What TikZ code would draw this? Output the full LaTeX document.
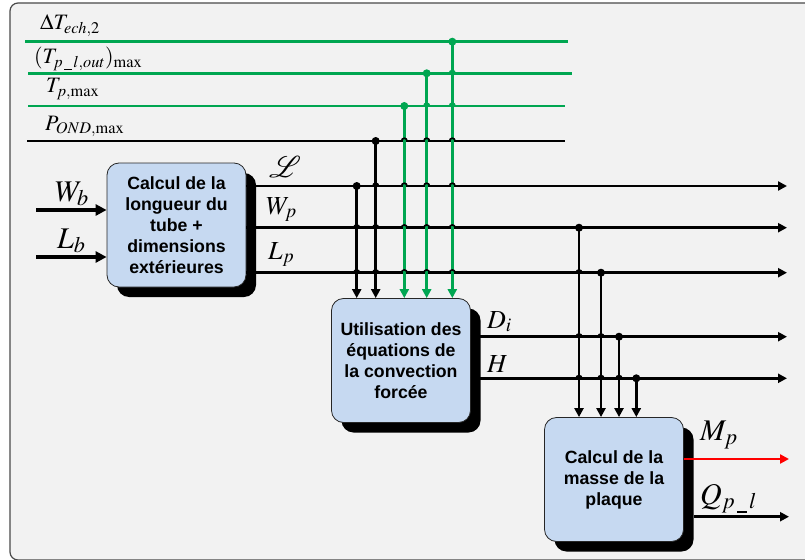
\documentclass[tikz,border=0pt]{standalone}
\usepackage{mathptmx}
\usepackage{fontspec}
\setsansfont{Liberation Sans}
\usetikzlibrary{arrows.meta,positioning,calc,shadows}
\definecolor{framegray}{HTML}{4A4A4A}
\definecolor{panelgray}{HTML}{F2F2F2}
\definecolor{boxblue}{HTML}{C6D9F1}
\definecolor{busgreen}{HTML}{00A651}
\definecolor{busred}{HTML}{FF0000}
\newcommand{\uscore}{\,\rule[-0.12em]{0.32em}{0.06em}\,}

\begin{document}
\begin{tikzpicture}[x=1pt, y=1pt,
  block/.style={draw=black!85, line width=0.8pt, fill=boxblue, rounded corners=12pt, minimum width=139pt, minimum height=124pt, inner sep=0pt, align=center, font=\fontsize{17.7}{21}\selectfont\sffamily\bfseries, drop shadow={shadow xshift=10pt, shadow yshift=-10pt, fill=black, opacity=1}},
  bus/.style={line width=2.6pt},
  gbus/.style={bus, busgreen},
  feed/.style={bus, -{Triangle[length=9pt, width=9pt]}},
  gfeed/.style={feed, busgreen},
  inarrow/.style={line width=3.4pt, -{Triangle[length=11pt, width=11pt]}},
  dot/.style={circle, fill, inner sep=0pt, minimum size=8pt},
  toplbl/.style={anchor=base west, inner sep=0pt, font=\fontsize{22}{24}\selectfont},
  midlbl/.style={anchor=base west, inner sep=0pt, font=\fontsize{26}{28}\selectfont},
  biglbl/.style={anchor=base west, inner sep=0pt, font=\fontsize{30}{32}\selectfont},
]

\useasboundingbox[fill=white] (0,0) rectangle (805,-559);

% ── Panel ──
\draw[framegray, fill=panelgray, line width=1.2pt, rounded corners=8pt] (10,-3) rectangle (840,-560);

% ── Blocks ──
\node[block] (geom) at (176.5,-225) {Calcul de la\\longueur du\\tube +\\dimensions\\extérieures};
\node[block] (conv) at (401,-360.5) {Utilisation des\\équations de\\la convection\\forcée};
\node[block] (mass) at (614,-479.5) {Calcul de la\\masse de la\\plaque};

% ── Bus ends ──
\coordinate (dT-w) at (25,-41.7);   \coordinate (dT-e) at (568,-41.7);
\coordinate (TL-w) at (28,-73.3);   \coordinate (TL-e) at (572,-73.3);
\coordinate (TP-w) at (28,-106);    \coordinate (TP-e) at (565,-106);
\coordinate (PO-w) at (27,-141);    \coordinate (PO-e) at (565,-141);
\coordinate (L-e)  at (787,-186);
\coordinate (Wp-e) at (787,-227.7);
\coordinate (Lp-e) at (787,-272.7);
\coordinate (Di-e) at (787,-336.7);
\coordinate (H-e)  at (787,-378.3);
\coordinate (Mp-e) at (789,-459);
\coordinate (Qp-e) at (789,-516.7);
\coordinate (Wb-w) at (36,-210);
\coordinate (Lb-w) at (36,-257);

% Inputs
\draw[inarrow] (Wb-w) -- (Wb-w -| geom.west);
\draw[inarrow] (Lb-w) -- (Lb-w -| geom.west);

% Parameter buses
\draw[gbus] (dT-w) -- (dT-e);
\draw[gbus] (TL-w) -- (TL-e);
\draw[gbus] (TP-w) -- (TP-e);
\draw[bus] (PO-w) -- (PO-e);

% Output buses
\draw[feed] (geom.east |- L-e) -- (L-e);
\draw[feed] (geom.east |- Wp-e) -- (Wp-e);
\draw[feed] (geom.east |- Lp-e) -- (Lp-e);
\draw[feed] (conv.east |- Di-e) -- (Di-e);
\draw[feed] (conv.east |- H-e) -- (H-e);
\draw[feed, busred] (mass.east |- Mp-e) -- (Mp-e);
\draw[feed] ([xshift=10pt]mass.east |- Qp-e) -- (Qp-e);

% ── Taps ──
\coordinate (jL)  at (356.7,-186);
\coordinate (jPO) at (375.7,-141);
\coordinate (jTP) at (404.3,-106);
\coordinate (jTL) at (426.7,-73.3);
\coordinate (jdT) at (452.3,-41.7);
\coordinate (jWp) at (579,-227.7);
\coordinate (jLp) at (601,-272.7);
\coordinate (jDi) at (619,-336.7);
\coordinate (jH)  at (636.3,-378.3);

\draw[feed] (jL) -- (jL |- conv.north);
\draw[feed] (jPO) -- (jPO |- conv.north);
\draw[gfeed] (jTP) -- (jTP |- conv.north);
\draw[gfeed] (jTL) -- (jTL |- conv.north);
\draw[gfeed] (jdT) -- (jdT |- conv.north);
\foreach \j in {jWp,jLp,jDi,jH}
  \draw[feed] (\j) -- (\j |- mass.north);

% Line jumps
\foreach \hx/\hy/\hc in {452.3/73.3/busgreen, 452.3/106/busgreen, 426.7/106/busgreen,
    452.3/141/black, 426.7/141/black, 404.3/141/black,
    452.3/186/black, 426.7/186/black, 404.3/186/black, 375.7/186/black,
    452.3/227.7/black, 426.7/227.7/black, 404.3/227.7/black, 375.7/227.7/black, 356.7/227.7/black,
    452.3/272.7/black, 426.7/272.7/black, 404.3/272.7/black, 375.7/272.7/black, 356.7/272.7/black,
    579/272.7/black, 579/336.7/black, 601/336.7/black,
    579/378.3/black, 601/378.3/black, 619/378.3/black}
  \draw[\hc, line width=1.6pt] (\hx-2.8,-\hy) arc (180:0:2.8pt);

\foreach \j in {jL,jPO,jWp,jLp,jDi,jH}
  \node[dot] at (\j) {};
\foreach \j in {jTP,jTL,jdT}
  \node[dot, busgreen] at (\j) {};

% ── Labels ──
\node[toplbl] (lbldT) at (40,-30) {$\Delta T_{ech,2}$};
\node[toplbl] (lblTL) at (34,-64) {$(T_{p\uscore l,out})_{\mathrm{max}}$};
\node[toplbl] (lblTP) at (46,-93) {$T_{p,\mathrm{max}}$};
\node[toplbl] (lblPO) at (45,-130) {$P_{OND,\mathrm{max}}$};
\node[biglbl] (lblWb) at (55,-201) {$W_b$};
\node[biglbl] (lblLb) at (57,-248) {$L_b$};
\node[biglbl] (lblL)  at (269,-177) {$\mathcal{L}$};
\node[midlbl] (lblWp) at (266,-214) {$W_p$};
\node[midlbl] (lblLp) at (268,-259) {$L_p$};
\node[midlbl] (lblDi) at (487,-328) {$D_i$};
\node[midlbl] (lblH)  at (487,-372) {$H$};
\node[biglbl] (lblMp) at (700,-440) {$M_p$};
\node[biglbl] (lblQp) at (700,-504) {$Q_{p\uscore l}$};

\end{tikzpicture}
\end{document}
